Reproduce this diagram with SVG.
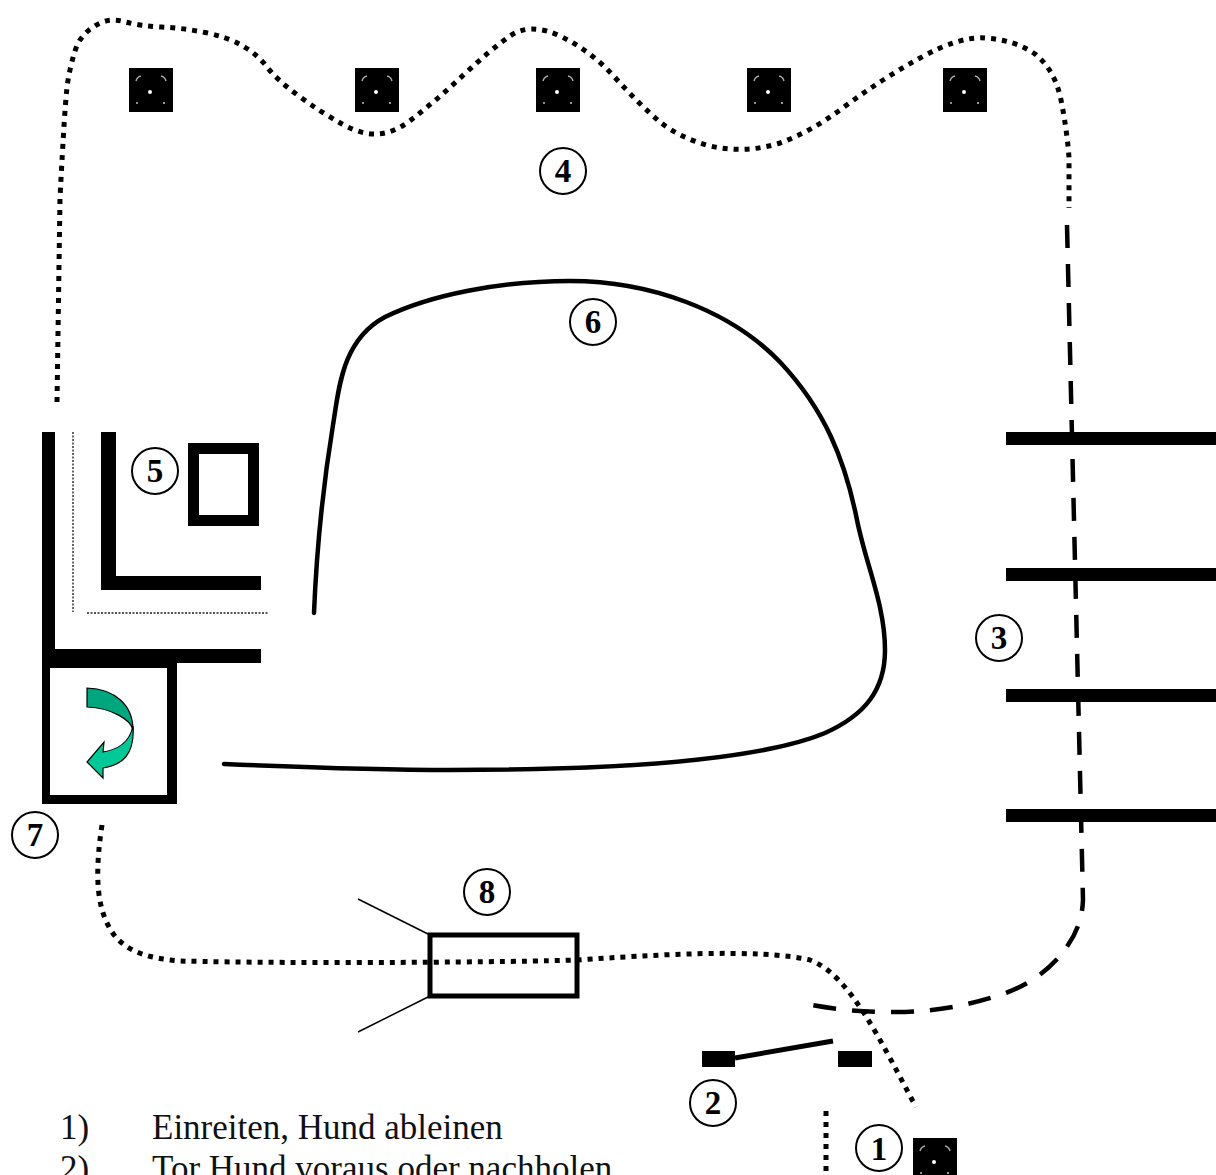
<svg xmlns="http://www.w3.org/2000/svg" width="1216" height="1175" viewBox="0 0 1216 1175">
<style>
.dot{fill:none;stroke:#000;stroke-width:5;stroke-dasharray:5 6}
.dash{fill:none;stroke:#000;stroke-width:4.500;stroke-dasharray:23 16}
.line{fill:none;stroke:#000;stroke-width:4.500;stroke-linecap:round}
.thin{fill:none;stroke:#000;stroke-width:1.5}
.fine{fill:none;stroke:#555;stroke-width:1.8;stroke-dasharray:2 1.5}
.wall{fill:#000}
.ring{fill:#fff;stroke:#000;stroke-width:2}
.num{font:bold 33px "Liberation Serif",serif;text-anchor:middle;fill:#000}
.txt{font:35px "Liberation Serif",serif;fill:#111}
.arrow{stroke:#000;stroke-width:1.2}
</style>
<defs>
<g id="post">
<rect width="44" height="44" fill="#000"/>
<circle cx="21" cy="24" r="2" fill="#fff"/>
<path d="M7 13Q8 9 12 8M32 8Q36 9 37 13" fill="none" stroke="#aaa" stroke-width="1.4"/>
<circle cx="8" cy="35" r="1" fill="#bbb"/><circle cx="35" cy="35" r="1.100" fill="#bbb"/>
</g>
</defs>
<rect width="1216" height="1175" fill="#fff"/>
<g id="connectors">
<path class="dot" d="M57 402L60 198Q65 100 67.500 83.500Q70 67 75 51Q80 35 93.500 27Q107 17 123.500 21.500Q140 26 161.500 27Q183 28 205 32.500Q227 37 242 45.500Q257 54 267 67Q277 80 299.500 96.500Q322 113 342 124Q362 135 378 134Q394 133 411 120Q438 99 464 74.500Q490 50 510 36Q530 22 560 36Q590 50 615 77.500Q640 105 660 122Q680 138 710 146Q745 154 780 143Q810 132 840 110Q880 80 920 58Q960 36 985 38Q1015 40 1035 54Q1055 70 1061 100Q1067 130 1069 157.500L1069 208"/>
<path class="dash" d="M1067 225L1083 900Q1082 925 1068 945Q1045 980 1000 995Q945 1013 890 1012Q850 1012 812 1005"/>
<path class="line" d="M314 613C317 540 324 480 333 425C339 388 342 340 385 317C430 295 500 281 570 281C650 281 730 310 780 362C825 410 845 460 857 520C866 565 885 605 885 650C885 690 865 715 825 733C760 760 620 770 450 770C370 770 295 767 224 764"/>
<path class="dot" d="M102 825C96 865 95 900 108 925C120 950 145 958 180 961C300 964 520 962 578 960C650 955 760 948 810 960C850 975 880 1040 916 1107"/>
<path class="dot" d="M826 1111V1175"/>
<path class="fine" d="M73 432V612M87 613H268"/>
<path class="thin" d="M358 899L430 935M358 1032L430 996"/>
</g>
<g id="post-row">
<use href="#post" x="129" y="68"/>
<use href="#post" x="355" y="68"/>
<use href="#post" x="536" y="68"/>
<use href="#post" x="747" y="68"/>
<use href="#post" x="943" y="68"/>
</g>
<g id="node-1"><use href="#post" x="913" y="1138"/><circle class="ring" cx="879" cy="1148" r="23"/><text class="num" x="879" y="1160">1</text></g>
<g id="node-2">
<rect class="wall" x="702" y="1051" width="33" height="16"/><rect class="wall" x="838" y="1051" width="34" height="16"/>
<path d="M735 1058L833 1041" stroke="#000" stroke-width="5" fill="none"/>
<circle class="ring" cx="713" cy="1103" r="23"/><text class="num" x="713" y="1114">2</text></g>
<g id="node-3">
<rect class="wall" x="1006" y="432" width="210" height="13"/><rect class="wall" x="1006" y="568" width="210" height="13"/><rect class="wall" x="1006" y="689" width="210" height="13"/><rect class="wall" x="1006" y="809" width="210" height="13"/>
<circle class="ring" cx="999" cy="638" r="23"/><text class="num" x="999" y="649">3</text></g>
<g id="node-4"><circle class="ring" cx="563" cy="171" r="23"/><text class="num" x="563" y="182">4</text></g>
<g id="node-5">
<path class="wall" d="M42 432H55V649H261V663H42ZM101 432H116V576H261V590H101Z"/>
<rect x="193.500" y="448.500" width="60" height="72" fill="none" stroke="#000" stroke-width="11"/>
<circle class="ring" cx="155" cy="471" r="23"/><text class="num" x="155" y="482">5</text></g>
<g id="node-6"><circle class="ring" cx="593" cy="322" r="23"/><text class="num" x="593" y="333">6</text></g>
<g id="node-7">
<path class="wall" fill-rule="evenodd" d="M42 660H177V804H42ZM50 668V795H167V668Z"/>
<path class="arrow" fill="#00a67e" d="M87 688C115 689 133 705 133 730C131 720 112 708 87 707Z"/>
<path class="arrow" fill="#00c896" d="M133 726C135 755 122 765 103 768L103 778L87 762L104 742L103 752C115 750 129 745 133 726Z"/>
<circle class="ring" cx="35" cy="835" r="23"/><text class="num" x="35" y="846">7</text></g>
<g id="node-8">
<rect x="430" y="935" width="147" height="61" fill="none" stroke="#000" stroke-width="5"/>
<circle class="ring" cx="487" cy="892" r="23"/><text class="num" x="487" y="903">8</text></g>
<g id="legend">
<text class="txt" x="60" y="1139">1)</text><text class="txt" x="152" y="1139">Einreiten, Hund ableinen</text>
<text class="txt" x="60" y="1180">2)</text><text class="txt" x="152" y="1180">Tor Hund voraus oder nachholen</text>
</g>
</svg>
